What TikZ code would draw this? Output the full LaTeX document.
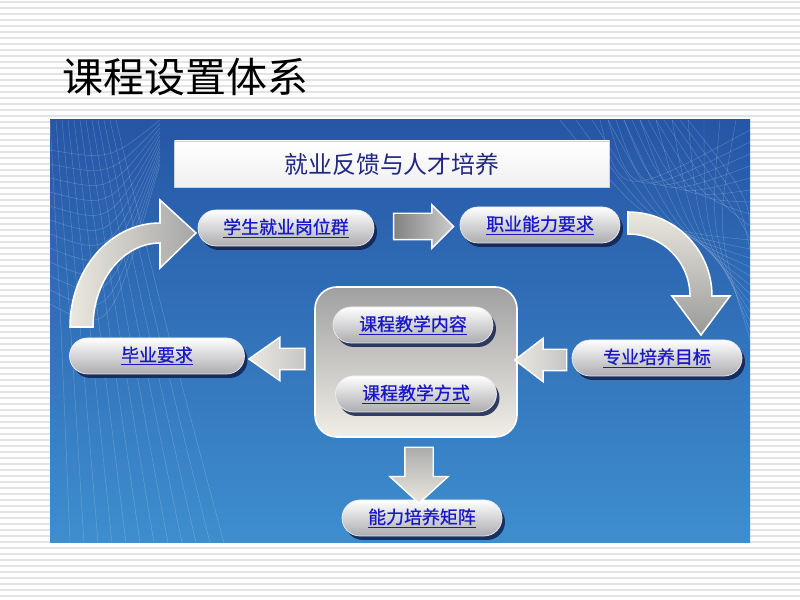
\documentclass[tikz,border=0pt]{standalone}
\usepackage{fontspec}
\setmainfont{Noto Sans CJK SC}
\newfontfamily\pillfont{Noto Sans CJK SC}[FakeBold=0.8]
\usetikzlibrary{shapes.misc,shapes.arrows,shadows,calc}
\definecolor{panelTop}{RGB}{38,86,166}
\definecolor{panelBot}{RGB}{62,142,206}
\definecolor{linkBlue}{RGB}{24,24,200}
\definecolor{headNavy}{RGB}{32,40,128}
\definecolor{pillGray}{RGB}{172,172,176}
\definecolor{shadowNavy}{RGB}{18,32,78}
\definecolor{arrowLight}{RGB}{234,232,222}
\definecolor{arrowDark}{RGB}{130,130,130}
\definecolor{boxTop}{RGB}{160,160,162}
\definecolor{boxBot}{RGB}{240,238,230}
\newdimen\pxu \pxu=0.03cm
\tikzset{
  pill/.style={rounded rectangle, minimum height=36\pxu, minimum width=#1,
    inner sep=0pt, top color=white, bottom color=pillGray,
    draw=white!85!gray, line width=0.6pt,
    drop shadow={shadow xshift=3\pxu, shadow yshift=-4\pxu,
      fill=shadowNavy, opacity=0.85},
    text=linkBlue, font=\pillfont\fontsize{15.3}{18}\selectfont},
  pill/.default=170\pxu,
  teachbox/.style={rectangle, rounded corners=22\pxu, minimum width=202\pxu,
    minimum height=150\pxu, top color=boxTop, bottom color=boxBot,
    draw=white, line width=1.4pt},
  blockarrow/.style={single arrow, draw=white, line width=1.2pt, minimum width=0pt},
  bentarrow/.style={draw=white, line width=1.3pt},
  mesh/.style={white, opacity=0.22, line width=0.4pt}
}
\begin{document}
\begin{tikzpicture}[x=0.03cm, y=-0.03cm]
  \useasboundingbox (0,0) rectangle (800,600);
  % striped background
  \fill[white] (0,0) rectangle (800,600);
  \foreach \y in {0,6,...,600}
    \draw[gray!22, line width=2\pxu] (0,\y+2) -- (800,\y+2);
  \node[anchor=west, font=\fontsize{35}{40}\selectfont] (title) at (58,77) {课程设置体系};

  % blue panel with mesh
  \shade[top color=panelTop, bottom color=panelBot] (50,120) rectangle (750,543);
  \begin{scope}
    \clip (50,120) rectangle (750,543);
    \foreach \k in {0,...,11} {
      \draw[mesh] (50+\k*6,120) .. controls (60+\k*9,300) .. (70+\k*14,543);
      \draw[mesh] (50,150+\k*14) .. controls (110,160+\k*16) .. (160,120+\k*4);
      \draw[mesh] (560+\k*16,120) .. controls (650+\k*6,230) .. (750,240+\k*9);
      \draw[mesh] (600+\k*8,120) .. controls (620+\k*12,200) .. (750,130+\k*12);
    }
  \end{scope}

  % header
  \node[top color=white, bottom color=gray!12, draw=gray!35,
    minimum width=435\pxu, minimum height=46\pxu, text=headNavy,
    font=\fontsize{20.4}{24}\selectfont] (feedback) at (392,164) {就业反馈与人才培养};

  % course box
  \node[teachbox] (teach) at (416,362) {};
  \node[pill=160\pxu] (content) at (413,325) {\underline{课程教学内容}};
  \node[pill=161\pxu] (method)  at (416,394) {\underline{课程教学方式}};

  % outer nodes
  \node[pill=176\pxu] (jobs)    at (286,228) {\underline{学生就业岗位群}};
  \node[pill=160\pxu] (ability) at (540,225) {\underline{职业能力要求}};
  \node[pill=170\pxu] (goal)    at (657,358) {\underline{专业培养目标}};
  \node[pill=175\pxu] (grad)    at (157,356) {\underline{毕业要求}};
  \node[pill=160\pxu] (matrix)  at (422,518) {\underline{能力培养矩阵}};

  % straight arrows
  \node[blockarrow, inner sep=12.5\pxu, minimum height=60\pxu,
    single arrow head extend=8.5\pxu, left color=arrowDark, right color=gray!40]
    (a1) at ($(jobs.east)!0.5!(ability.west)$) {};
  \node[blockarrow, shape border rotate=180, inner sep=10\pxu, minimum height=52\pxu,
    single arrow head extend=11\pxu, single arrow tip angle=75,
    left color=arrowLight, right color=gray!45]
    (a2) at ($(goal.west)!0.5!(teach.east)+(3,0)$) {};
  \node[blockarrow, shape border rotate=180, inner sep=10\pxu, minimum height=56\pxu,
    single arrow head extend=11\pxu, single arrow tip angle=70,
    left color=arrowLight, right color=gray!45]
    (a3) at ($(teach.west)!0.5!(grad.east)+(5,0)$) {};
  \node[blockarrow, shape border rotate=270, inner sep=13.5\pxu, minimum height=56\pxu,
    single arrow head extend=15\pxu, single arrow tip angle=95,
    top color=gray!65, bottom color=arrowLight]
    (a4) at ($(teach.south)!0.5!(matrix.north)$) {};

  % bent arrows
  \shade[bentarrow, top color=arrowLight, bottom color=gray!80]
    (628,212) arc[start angle=-90, end angle=0, radius=84]
    -- (730,296) -- (701,335) -- (672,296) -- (690,296)
    arc[start angle=0, end angle=-90, radius=62] -- cycle;
  \shade[bentarrow, left color=arrowLight, right color=gray!70]
    (70,327) arc[start angle=180, end angle=270, x radius=90, y radius=104]
    -- (160,200) -- (196,233) -- (160,268) -- (160,243)
    arc[start angle=270, end angle=180, x radius=67, y radius=84] -- cycle;
\end{tikzpicture}
\end{document}
